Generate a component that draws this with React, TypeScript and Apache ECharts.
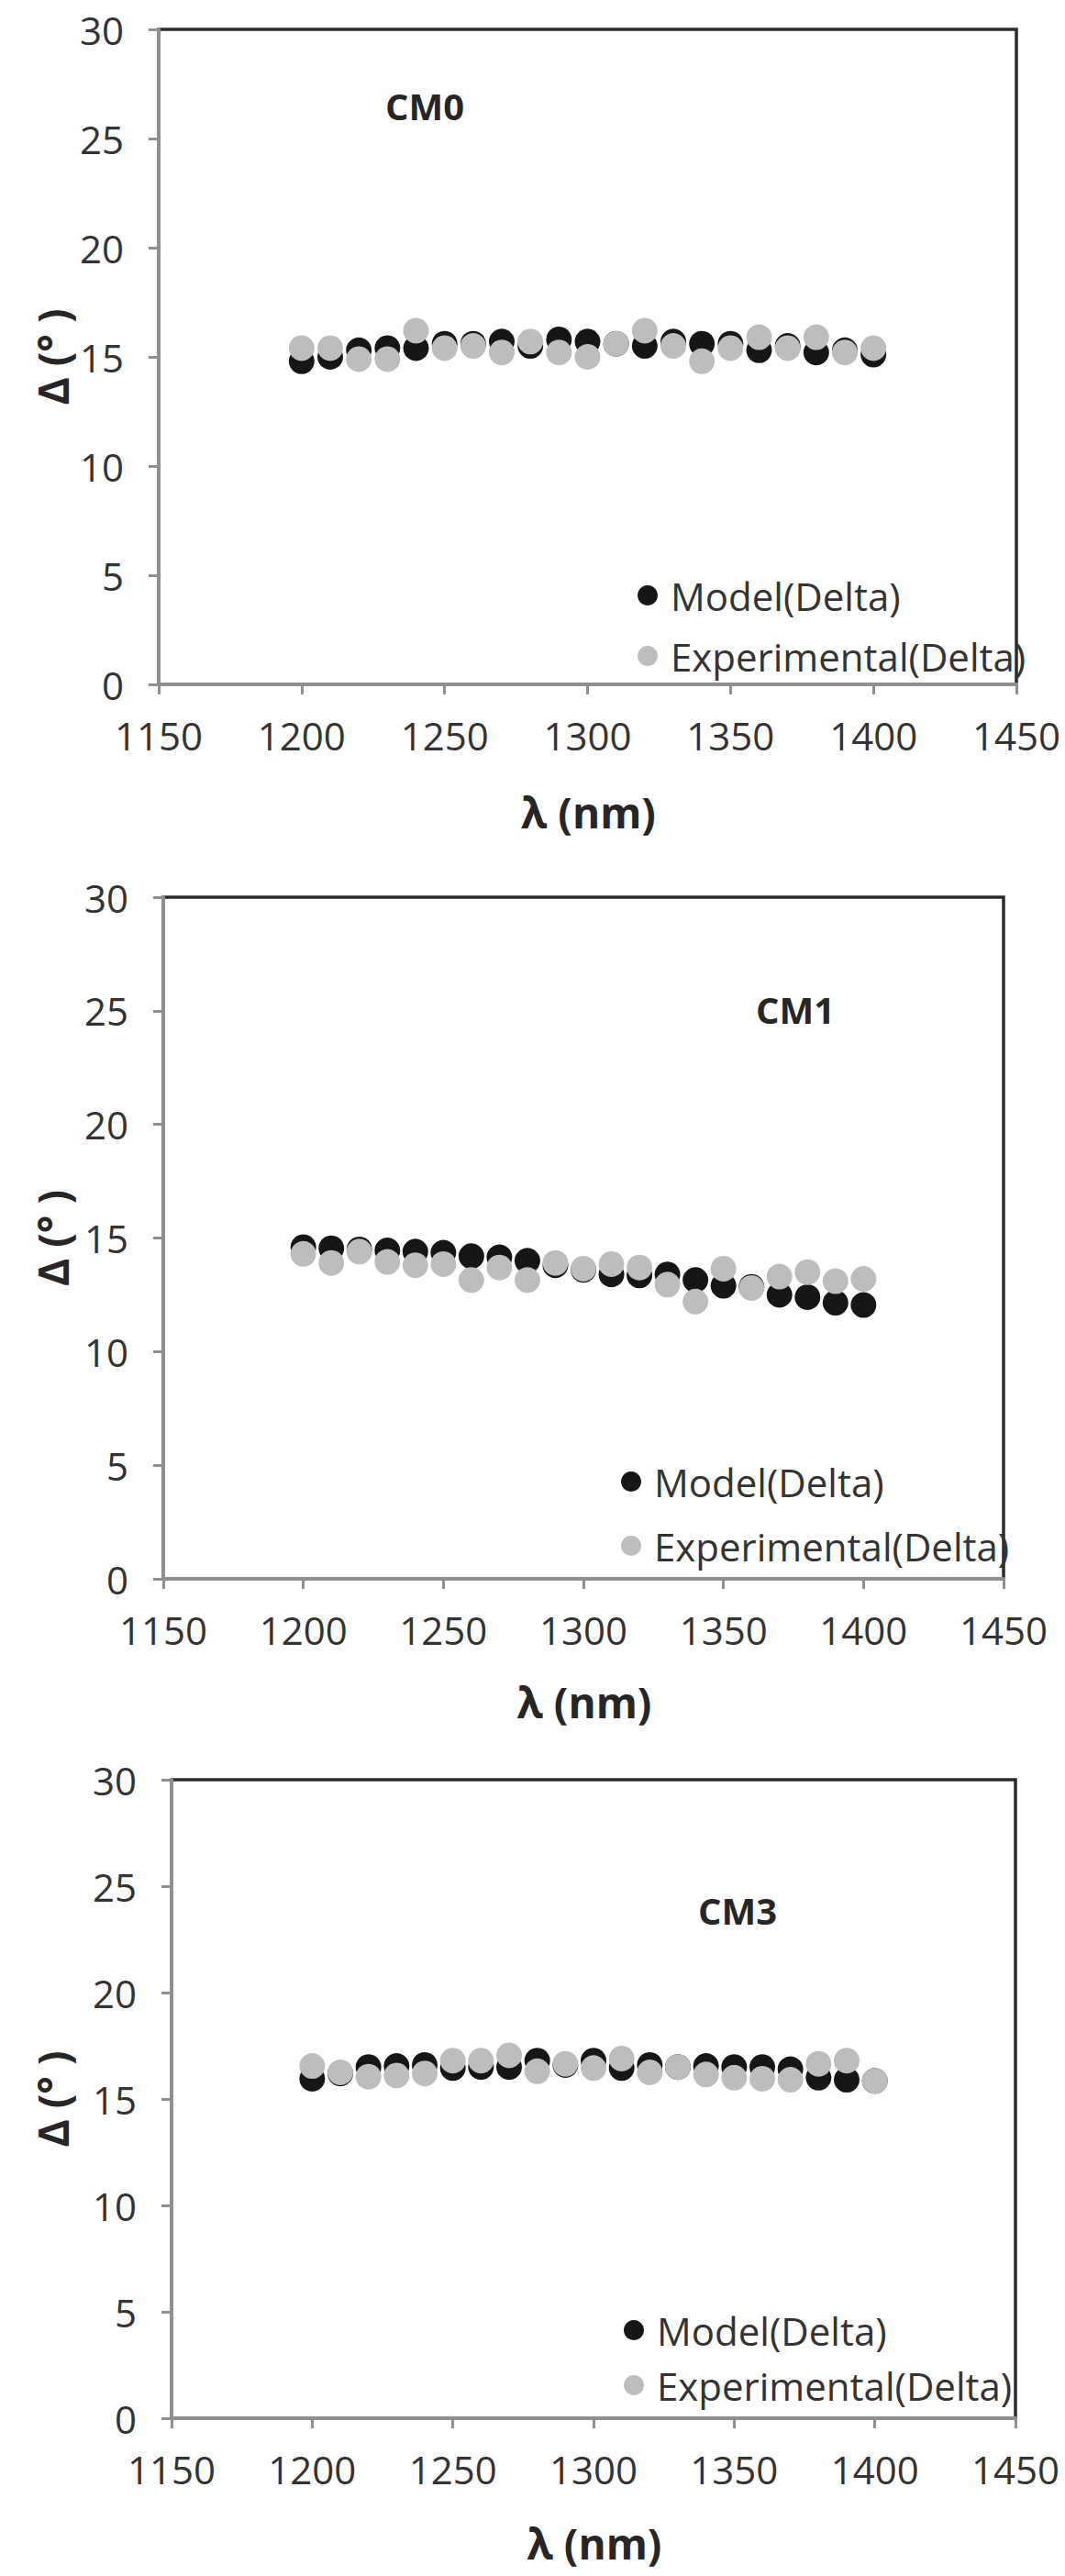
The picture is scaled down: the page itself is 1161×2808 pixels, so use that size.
import React, { useEffect, useRef } from "react";
import * as echarts from "echarts";

// Wavelength sampling (nm)
const wavelengths = [
  1200, 1210, 1220, 1230, 1240, 1250, 1260, 1270, 1280, 1290, 1300,
  1310, 1320, 1330, 1340, 1350, 1360, 1370, 1380, 1390, 1400,
];

// CM0
const cm0Model = [14.8, 15.0, 15.3, 15.4, 15.4, 15.6, 15.6, 15.7, 15.5, 15.8, 15.7, 15.6, 15.5, 15.7, 15.6, 15.6, 15.3, 15.5, 15.2, 15.3, 15.1];
const cm0Exp = [15.4, 15.4, 14.9, 14.9, 16.2, 15.4, 15.5, 15.2, 15.7, 15.2, 15.0, 15.6, 16.2, 15.5, 14.8, 15.4, 15.9, 15.4, 15.9, 15.2, 15.4];

// CM1
const cm1Model = [14.6, 14.55, 14.5, 14.45, 14.4, 14.35, 14.2, 14.15, 14.0, 13.8, 13.6, 13.4, 13.35, 13.4, 13.15, 12.9, 12.85, 12.5, 12.4, 12.15, 12.05];
const cm1Exp = [14.3, 13.9, 14.4, 13.95, 13.8, 13.85, 13.15, 13.7, 13.15, 13.9, 13.65, 13.85, 13.7, 12.95, 12.2, 13.65, 12.8, 13.3, 13.5, 13.1, 13.2];

// CM3
const cm3Model = [15.95, 16.2, 16.5, 16.55, 16.6, 16.45, 16.5, 16.5, 16.8, 16.6, 16.8, 16.45, 16.6, 16.5, 16.55, 16.5, 16.5, 16.4, 16.0, 15.9, 15.85];
const cm3Exp = [16.55, 16.25, 16.05, 16.1, 16.2, 16.8, 16.8, 17.05, 16.3, 16.65, 16.45, 16.9, 16.25, 16.5, 16.15, 16.0, 15.95, 15.9, 16.65, 16.8, 15.85];

const panelNames = ["CM0", "CM1", "CM3"];
const modelSets = [cm0Model, cm1Model, cm3Model];
const expSets = [cm0Exp, cm1Exp, cm3Exp];

const MODEL_NAME = "Model(Delta)";
const EXP_NAME = "Experimental(Delta)";

const FONT = "'Open Sans', 'Noto Sans', sans-serif";
const TEXT = "#333333";
const AXIS_GRAY = "#8f8f8f";

// Panel frames in page pixels
const frames = [
  { left: 173, right: 1108, top: 32, bottom: 746, tag: [463, 115], leg: [695, 627, 22], xTitleY: 885 },
  { left: 178, right: 1094, top: 978, bottom: 1721, tag: [867, 1100], leg: [677, 1593, 26], xTitleY: 1855 },
  { left: 187, right: 1107, top: 1940, bottom: 2636, tag: [804, 2082], leg: [680, 2518, 16], xTitleY: 2772 },
];

const W = 1161;
const H = 2808;

export default function App() {
  const ref = useRef<HTMLDivElement>(null);

  useEffect(() => {
    document.body.style.margin = "0";
    if (!ref.current) return;
    const chart = echarts.init(ref.current, undefined, { renderer: "svg" });

    const grid: any[] = [];
    const xAxis: any[] = [];
    const yAxis: any[] = [];
    const series: any[] = [];
    const legend: any[] = [];
    const graphic: any[] = [];

    frames.forEach((f, i) => {
      grid.push({
        left: f.left,
        top: f.top,
        width: f.right - f.left,
        height: f.bottom - f.top,
        show: true,
        backgroundColor: "transparent",
        borderColor: "#2b2b2b",
        borderWidth: 3.5,
      });
      xAxis.push({
        type: "value",
        gridIndex: i,
        min: 1150,
        max: 1450,
        interval: 50,
        axisLine: { show: true, onZero: false, lineStyle: { color: AXIS_GRAY, width: 4 } },
        axisTick: { show: true, inside: false, length: 11, lineStyle: { color: AXIS_GRAY, width: 3 } },
        axisLabel: {
          fontSize: 42,
          fontFamily: FONT,
          color: TEXT,
          margin: 34,
          formatter: (v: number) => String(v),
        },
        splitLine: { show: false },
      });
      yAxis.push({
        type: "value",
        gridIndex: i,
        min: 0,
        max: 30,
        interval: 5,
        axisLine: { show: true, onZero: false, lineStyle: { color: AXIS_GRAY, width: 4 } },
        axisTick: { show: true, inside: false, length: 11, lineStyle: { color: AXIS_GRAY, width: 3 } },
        axisLabel: { fontSize: 42, fontFamily: FONT, color: TEXT, margin: 38 },
        splitLine: { show: false },
      });
      series.push({
        name: MODEL_NAME,
        type: "scatter",
        xAxisIndex: i,
        yAxisIndex: i,
        symbol: "circle",
        symbolSize: 28,
        itemStyle: { color: "#161616", opacity: 1 },
        data: wavelengths.map((w, k) => [w, modelSets[i][k]]),
      });
      series.push({
        name: EXP_NAME,
        type: "scatter",
        xAxisIndex: i,
        yAxisIndex: i,
        symbol: "circle",
        symbolSize: 28,
        itemStyle: { color: "#bdbdbd", opacity: 1 },
        data: wavelengths.map((w, k) => [w, expSets[i][k]]),
      });
      legend.push({
        orient: "vertical",
        left: f.leg[0],
        top: f.leg[1],
        itemGap: f.leg[2],
        itemWidth: 40,
        itemHeight: 22,
        icon: "circle",
        selectedMode: false,
        padding: 0,
        data: [MODEL_NAME, EXP_NAME],
        textStyle: { fontSize: 42, fontFamily: FONT, color: TEXT, lineHeight: 44, padding: 0 },
      });
      graphic.push({
        type: "text",
        x: f.tag[0],
        y: f.tag[1],
        style: {
          text: panelNames[i],
          font: `bold 40px ${FONT}`,
          fill: "#262626",
          textAlign: "center",
          textVerticalAlign: "middle",
        },
      });
      graphic.push({
        type: "text",
        x: (f.left + f.right) / 2 + 1,
        y: f.xTitleY,
        style: {
          text: "λ (nm)",
          font: `bold 46px ${FONT}`,
          fill: "#262626",
          textAlign: "center",
          textVerticalAlign: "middle",
        },
      });
      graphic.push({
        type: "text",
        x: 57,
        y: (f.top + f.bottom) / 2,
        rotation: Math.PI / 2,
        style: {
          text: "Δ (° )",
          font: `bold 46px ${FONT}`,
          fill: "#262626",
          textAlign: "center",
          textVerticalAlign: "middle",
        },
      });
    });

    chart.setOption({
      animation: false,
      backgroundColor: "#ffffff",
      grid,
      xAxis,
      yAxis,
      series,
      legend,
      graphic,
    });

    return () => chart.dispose();
  }, []);

  return <div ref={ref} style={{ width: W, height: H }} />;
}
